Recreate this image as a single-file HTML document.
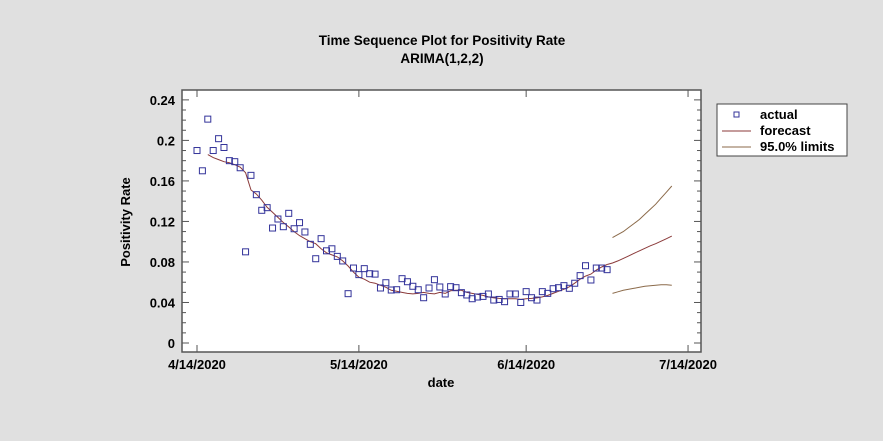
<!DOCTYPE html>
<html><head><meta charset="utf-8"><style>
html,body{margin:0;padding:0;background:#e0e0e0;}
svg{display:block;font-family:"Liberation Sans",Arial,sans-serif;}
</style></head><body>
<svg id="chart" width="883" height="441" viewBox="0 0 883 441">
<rect x="0" y="0" width="883" height="441" fill="#e0e0e0"/>
<text x="442" y="45" text-anchor="middle" font-size="13.5" font-weight="bold">Time Sequence Plot for Positivity Rate</text>
<text x="442" y="63" text-anchor="middle" font-size="13.5" font-weight="bold">ARIMA(1,2,2)</text>
<rect x="182" y="90" width="519" height="262" fill="#fff" stroke="#555" stroke-width="1.5"/>
<g id="axes"></g>
<g id="marks"></g>
<text transform="translate(130,222) rotate(-90)" text-anchor="middle" font-size="13" font-weight="bold">Positivity Rate</text>
<text x="441" y="387" text-anchor="middle" font-size="13" font-weight="bold">date</text>
<g>
<rect x="717" y="104" width="130" height="52" fill="#fff" stroke="#444" stroke-width="1"/>
<rect x="734" y="112" width="5" height="5" fill="none" stroke="#33339a"/>
<text x="760" y="119" font-size="13" font-weight="bold">actual</text>
<line x1="722" y1="131" x2="751" y2="131" stroke="#8b3a3a"/>
<text x="760" y="135" font-size="13" font-weight="bold">forecast</text>
<line x1="722" y1="147" x2="751" y2="147" stroke="#8b6a4a"/>
<text x="760" y="151" font-size="13" font-weight="bold">95.0% limits</text>
</g>
</svg>
<script>
const xTickLabels=["4/14/2020","5/14/2020","6/14/2020","7/14/2020"];
const xTickDays=[0,30,61,91];
const yTicks=[0,0.04,0.08,0.12,0.16,0.2,0.24];
const yTickLabels=["0","0.04","0.08","0.12","0.16","0.2","0.24"];
const actual=[0.19,0.170,0.221,0.19,0.2017,0.193,0.18,0.179,0.173,0.090,0.1655,0.1464,0.131,0.1336,0.1135,0.1224,0.1148,0.128,0.1128,0.1188,0.1096,0.0974,0.0832,0.103,0.091,0.093,0.0855,0.081,0.0487,0.074,0.0675,0.0734,0.0684,0.068,0.0543,0.0595,0.0523,0.0526,0.0635,0.0605,0.056,0.0526,0.0447,0.0543,0.0625,0.0553,0.0484,0.0556,0.0546,0.0497,0.0474,0.0437,0.0454,0.046,0.0484,0.0424,0.043,0.0408,0.0484,0.0484,0.040,0.0507,0.0447,0.0424,0.0507,0.049,0.0536,0.0546,0.0566,0.054,0.059,0.0665,0.0763,0.0622,0.074,0.074,0.0724];
const fittedStart=2;
const fitted=[0.186,0.183,0.181,0.179,0.178,0.176,0.1735,0.168,0.151,0.147,0.141,0.134,0.129,0.124,0.119,0.1146,0.110,0.106,0.103,0.100,0.098,0.093,0.089,0.087,0.085,0.081,0.076,0.070,0.065,0.063,0.060,0.059,0.057,0.055,0.052,0.051,0.050,0.049,0.0485,0.049,0.050,0.049,0.0485,0.050,0.049,0.0515,0.052,0.052,0.050,0.049,0.048,0.047,0.0455,0.0445,0.044,0.0437,0.0437,0.0437,0.043,0.0437,0.044,0.0445,0.0455,0.047,0.049,0.051,0.053,0.0555,0.059,0.063,0.066,0.068,0.072,0.075,0.0775];
const forecastStart=77;
const forecast=[0.079,0.081,0.0835,0.086,0.0885,0.091,0.0935,0.096,0.098,0.1005,0.103,0.1055];
const upper=[0.104,0.107,0.110,0.114,0.118,0.122,0.127,0.132,0.137,0.143,0.149,0.155];
const lower=[0.049,0.0505,0.052,0.053,0.054,0.055,0.056,0.0565,0.057,0.0575,0.0575,0.057];

const NS="http://www.w3.org/2000/svg";
const X0=197,PXD=5.396,Y0=343,PXV=1013;
function xs(d){return X0+d*PXD;}
function ys(v){return Y0-v*PXV;}
const axes=document.getElementById('axes'),marks=document.getElementById('marks');
function mk(tag,attrs,parent){const e=document.createElementNS(NS,tag);for(const k in attrs)e.setAttribute(k,attrs[k]);parent.appendChild(e);return e;}
for(let i=0;i<=24;i++){
  const y=ys(i*0.01);const major=i%4===0;const len=major?7:4;
  const t1=mk('line',{x1:182,y1:y,x2:182+len,y2:y,stroke:'#555'},axes);
  
  
  const t2=mk('line',{x1:701,y1:y,x2:701-len,y2:y,stroke:'#555'},axes);
  
  
}
yTicks.forEach((v,i)=>{
  const t=mk('text',{x:175,y:ys(v)+5,'text-anchor':'end','font-size':'13','font-weight':'bold'},axes);
  t.textContent=yTickLabels[i];
  
  
});
xTickDays.forEach((d,i)=>{
  const x=xs(d);
  const a=mk('line',{x1:x,y1:352,x2:x,y2:345,stroke:'#555'},axes);
  
  
  const b=mk('line',{x1:x,y1:90,x2:x,y2:97,stroke:'#555'},axes);
  
  
  const t=mk('text',{x:x,y:369,'text-anchor':'middle','font-size':'13','font-weight':'bold'},axes);
  t.textContent=xTickLabels[i];
  
  
});
function line(arr,start,color,name){
  const pts=arr.map((v,i)=>xs(start+i).toFixed(1)+','+ys(v).toFixed(1)).join(' ');
  const p=mk('polyline',{points:pts,fill:'none',stroke:color,'stroke-width':'1'},marks);
  
  
}
line(fitted,fittedStart,'#8b3a3a','fitted-line');
line([fitted[fitted.length-1]].concat(forecast),forecastStart-1,'#8b3a3a','forecast-line');
line(upper,forecastStart,'#8b6a4a','upper-limit-line');
line(lower,forecastStart,'#8b6a4a','lower-limit-line');
actual.forEach((v,i)=>{
  const r=mk('rect',{x:xs(i)-3,y:ys(v)-3,width:6,height:6,fill:'none',stroke:'#33339a','stroke-width':'1'},marks);
  
  
});
</script>
</body></html>
